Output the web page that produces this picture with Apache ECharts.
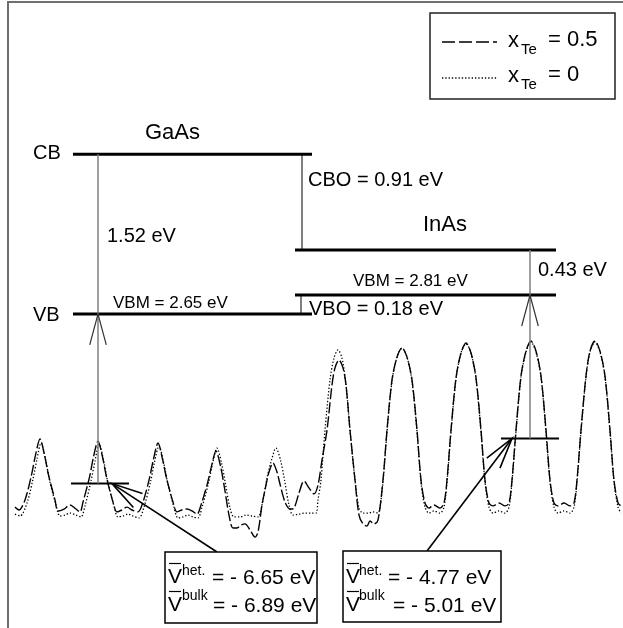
<!DOCTYPE html>
<html>
<head>
<meta charset="utf-8">
<script src="https://cdn.jsdelivr.net/npm/echarts@6/dist/echarts.min.js"></script>
<style>
  html, body { margin: 0; padding: 0; background: #fff; }
  #chart { width: 623px; height: 628px; }
</style>
</head>
<body>
<div id="chart"></div>
<script>
// position z in Angstrom, potential V in eV (x_Te = 0.5, dashed)
const potentialHalf = [
  [0.7,-7.63],[1.1,-7.75],[1.7,-7.33],[2.35,-6.29],[2.75,-5.46],[3.2,-4.79],[3.65,-5.46],[4.05,-6.29],[4.7,-7.33],[5.0,-7.79],
  [5.6,-7.71],[6.2,-7.54],[6.8,-7.71],[7.2,-7.83],
  [7.5,-7.42],[8.15,-6.38],[8.55,-5.54],[9.0,-4.88],[9.45,-5.54],[9.85,-6.38],[10.5,-7.42],[10.9,-7.83],
  [11.4,-7.75],[11.9,-7.63],[12.4,-7.75],[13.0,-7.83],
  [13.5,-7.42],[14.15,-6.42],[14.55,-5.63],[15.0,-4.96],[15.45,-5.63],[15.85,-6.42],[16.5,-7.42],[16.9,-7.83],
  [17.4,-7.75],[17.9,-7.71],[18.4,-7.79],[18.9,-7.92],
  [19.3,-7.54],[19.95,-6.63],[20.35,-5.92],[20.8,-5.29],[21.25,-5.92],[21.65,-6.83],[22.1,-7.96],[22.5,-8.50],
  [22.9,-8.50],[23.3,-8.38],[23.7,-8.33],[24.2,-8.58],[24.7,-8.88],[25.0,-8.67],
  [25.4,-7.54],[25.8,-6.71],[26.1,-6.17],[26.5,-5.79],[26.9,-6.17],[27.2,-6.67],[27.7,-7.42],[28.2,-7.71],
  [28.6,-7.67],[29.1,-7.04],[29.6,-6.54],[30.1,-6.83],[30.6,-7.08],
  [31.0,-6.71],[31.4,-5.67],[31.9,-4.42],[32.4,-2.54],[32.7,-1.83],[33.1,-1.50],[33.5,-1.83],[33.8,-2.54],[34.2,-4.42],[34.7,-6.50],[35.1,-7.96],[35.5,-8.33],
  [35.9,-8.42],[36.2,-8.21],[36.6,-8.33],[37.0,-8.17],
  [37.5,-6.50],[37.9,-4.42],[38.4,-2.33],[38.9,-1.38],[39.4,-1.00],[39.9,-1.38],[40.4,-2.33],[40.9,-4.42],[41.3,-6.50],[41.7,-7.46],
  [42.1,-7.67],[42.6,-7.54],[43.2,-7.67],
  [43.6,-7.46],[43.9,-6.50],[44.3,-4.42],[44.8,-2.25],[45.3,-1.21],[45.8,-0.79],[46.3,-1.21],[46.8,-2.25],[47.3,-4.42],[47.7,-6.50],[48.1,-7.46],
  [48.5,-7.58],[49.1,-7.46],[49.7,-7.58],
  [50.1,-7.46],[50.4,-6.50],[50.8,-4.42],[51.3,-2.17],[51.8,-1.13],[52.3,-0.71],[52.8,-1.13],[53.3,-2.17],[53.8,-4.42],[54.2,-6.50],[54.6,-7.46],
  [55.0,-7.58],[55.6,-7.46],[56.2,-7.58],
  [56.6,-7.46],[56.9,-6.50],[57.3,-4.42],[57.8,-2.17],[58.2,-1.13],[58.7,-0.71],[59.2,-1.13],[59.7,-2.17],[60.2,-4.42],[60.6,-6.50],[61.0,-7.46],[61.3,-7.58]
];

// x_Te = 0 (dotted)
const potentialZero = [
  [0.7,-7.92],[1.2,-8.00],[1.9,-7.46],[2.5,-6.46],[2.9,-5.63],[3.3,-4.96],[3.75,-5.63],[4.15,-6.50],[4.8,-7.54],[5.2,-8.00],
  [5.7,-7.96],[6.2,-7.88],[6.8,-7.96],[7.3,-8.04],
  [7.7,-7.58],[8.3,-6.54],[8.7,-5.71],[9.1,-5.00],[9.55,-5.67],[9.95,-6.54],[10.6,-7.58],[11.0,-8.04],
  [11.5,-8.00],[12.0,-7.92],[12.5,-8.00],[13.1,-8.08],
  [13.6,-7.63],[14.25,-6.58],[14.65,-5.75],[15.1,-5.08],[15.55,-5.75],[15.95,-6.58],[16.6,-7.63],[17.0,-8.08],
  [17.5,-8.04],[18.0,-7.96],[18.5,-8.04],[19.0,-8.08],
  [19.4,-7.63],[20.05,-6.63],[20.45,-5.83],[20.9,-5.17],[21.35,-5.79],[21.75,-6.67],[22.2,-7.67],[22.6,-8.04],
  [23.2,-8.04],[23.8,-7.96],[24.4,-8.00],[25.0,-8.04],
  [25.5,-7.33],[25.9,-6.42],[26.35,-5.67],[26.8,-5.17],[27.25,-5.67],[27.65,-6.50],[28.1,-7.54],[28.5,-7.96],
  [29.1,-7.92],[29.7,-7.88],[30.3,-7.88],[30.8,-7.88],
  [31.0,-7.33],[31.3,-6.50],[31.7,-4.42],[32.2,-2.33],[32.6,-1.42],[33.0,-1.08],[33.4,-1.42],[33.8,-2.54],[34.2,-4.42],[34.7,-6.50],[35.1,-7.67],[35.5,-7.88],
  [36.0,-7.88],[36.5,-7.83],[37.0,-7.88],
  [37.2,-7.63],[37.5,-6.58],[37.9,-4.50],[38.4,-2.38],[38.9,-1.38],[39.4,-1.00],[39.9,-1.38],[40.4,-2.38],[40.9,-4.50],[41.3,-6.58],[41.7,-7.63],
  [42.1,-7.88],[42.6,-7.79],[43.2,-7.88],
  [43.6,-7.63],[43.9,-6.58],[44.3,-4.50],[44.8,-2.29],[45.3,-1.21],[45.8,-0.83],[46.3,-1.21],[46.8,-2.29],[47.3,-4.50],[47.7,-6.58],[48.1,-7.63],
  [48.5,-7.88],[49.1,-7.79],[49.7,-7.88],
  [50.1,-7.63],[50.4,-6.58],[50.8,-4.50],[51.3,-2.21],[51.8,-1.17],[52.3,-0.75],[52.8,-1.17],[53.3,-2.21],[53.8,-4.50],[54.2,-6.58],[54.6,-7.63],
  [55.0,-7.88],[55.6,-7.79],[56.2,-7.88],
  [56.6,-7.63],[56.9,-6.58],[57.3,-4.50],[57.8,-2.21],[58.2,-1.17],[58.7,-0.75],[59.2,-1.17],[59.7,-2.21],[60.2,-4.50],[60.6,-6.58],[61.0,-7.63],[61.3,-7.88]
];

// band edges (eV, GaAs VB = 0): [CB, VB]
const gaasLevels = [1.52, 0];
const inasLevels = [0.61, 0.18];
const gaasSpan = [6.5, 30.4];
const inasSpan = [28.7, 54.8];
const cboX = 29.4;
const vboX = 29.3;
const gapX = [9.0, 52.2];

// average potentials (eV) and where they are marked
const meanHet = [-6.65, -4.77];
const meanBulk = [-6.89, -5.01];
const markerSpan = [[6.3, 12.1], [49.3, 55.1]];
const arrowTipX = [10.4, 50.4];

const FONT = '"Liberation Sans", Arial, sans-serif';
const chart = echarts.init(document.getElementById('chart'), null, { renderer: 'canvas' });

function seg(data, axis, color, width) {
  return {
    type: 'line', data: data, yAxisIndex: axis, symbol: 'none', silent: true,
    lineStyle: { color: color, width: width, cap: 'butt' }, z: 3
  };
}

const series = [
  {
    name: 'x_Te = 0.5', type: 'line', data: potentialHalf, yAxisIndex: 0,
    symbol: 'none', smooth: 0.3, silent: true,
    lineStyle: { color: '#000', width: 1.4, type: [11, 3] }
  },
  {
    name: 'x_Te = 0', type: 'line', data: potentialZero, yAxisIndex: 0,
    symbol: 'none', smooth: 0.3, silent: true,
    lineStyle: { color: '#000', width: 1.3, type: [1.3, 2] }
  }
];
gaasLevels.forEach(e => series.push(seg([[gaasSpan[0], e], [gaasSpan[1], e]], 1, '#000', 3)));
inasLevels.forEach(e => series.push(seg([[inasSpan[0], e], [inasSpan[1], e]], 1, '#000', 3)));
series.push(seg([[cboX, gaasLevels[0]], [cboX, inasLevels[0]]], 1, '#000', 1));
series.push(seg([[vboX, inasLevels[1]], [vboX, gaasLevels[1]]], 1, '#000', 1));
series.push(seg([[gapX[0], gaasLevels[0]], [gapX[0], gaasLevels[1]]], 1, '#7f7f7f', 1.5));
series.push(seg([[gapX[1], inasLevels[0]], [gapX[1], inasLevels[1]]], 1, '#7f7f7f', 1.5));
markerSpan.forEach((s, i) => series.push(seg([[s[0], meanHet[i]], [s[1], meanHet[i]]], 0, '#000', 2)));

chart.setOption({
  animation: false,
  backgroundColor: '#fff',
  grid: { left: 8, right: 2, top: 0, bottom: 0, outerBoundsMode: 'none' },
  xAxis: { type: 'value', min: 0, max: 61.3, show: false },
  yAxis: [
    { type: 'value', min: 13.5 - 628 / 24, max: 13.5, show: false },
    { type: 'value', min: -2.99, max: 2.99, show: false }
  ],
  series: series
});

// annotations placed through the axes
const X = v => chart.convertToPixel({ xAxisIndex: 0 }, v);
const Y = (v, a) => chart.convertToPixel({ yAxisIndex: a }, v);
const g = [];

function line(x1, y1, x2, y2, stroke, lw, dash) {
  g.push({ type: 'line', z: 5, silent: true, shape: { x1, y1, x2, y2 },
    style: { stroke: stroke, lineWidth: lw, lineDash: dash || null } });
}
function text(str, x, y, size) {
  g.push({ type: 'text', z: 6, silent: true, x: x, y: y,
    style: { text: str, font: size + 'px ' + FONT, fill: '#000', textAlign: 'left', textVerticalAlign: 'middle' } });
}
function arrowHead(tx, ty, fx, fy, stroke, lw) {
  const a = Math.atan2(fy - ty, fx - tx), d = 15 * Math.PI / 180, len = 32;
  g.push({ type: 'polyline', z: 5, silent: true,
    shape: { points: [[tx + len * Math.cos(a + d), ty + len * Math.sin(a + d)], [tx, ty],
                      [tx + len * Math.cos(a - d), ty + len * Math.sin(a - d)]] },
    style: { stroke: stroke, lineWidth: lw, fill: null } });
}

// frame (left and top only)
g.push({ type: 'polyline', z: 5, silent: true, shape: { points: [[8, 640], [8, 2], [630, 2]] },
  style: { stroke: '#6e6e6e', lineWidth: 2, fill: null } });

// gap arrows from mean potential up to the valence band
const vbTop = [gaasLevels[1], inasLevels[1]];
gapX.forEach((gx, i) => {
  const x = X(gx), yt = Y(vbTop[i], 1), yb = Y(meanHet[i], 0);
  line(x, yt, x, yb, '#7f7f7f', 1.5);
  arrowHead(x, yt, x, yb, '#333', 1.2);
});

// value boxes and their arrows
const boxes = [
  { x: 165, y: 552, w: 152, h: 71, tail: [217, 552], vx: 168, sup: 182, eq: [212, 213] },
  { x: 343, y: 551, w: 158, h: 71, tail: [427, 551], vx: 346, sup: 359, eq: [388, 393] }
];
boxes.forEach((b, i) => {
  const tx = X(arrowTipX[i]), ty = Y(meanHet[i], 0);
  line(b.tail[0], b.tail[1], tx, ty, '#000', 1.6);
  arrowHead(tx, ty, b.tail[0], b.tail[1], '#000', 1.6);
  g.push({ type: 'rect', z: 5, silent: true, shape: { x: b.x, y: b.y, width: b.w, height: b.h },
    style: { stroke: '#000', lineWidth: 1.5, fill: '#fff' } });
  const rows = [[577, 571, 'het.', meanHet[i]], [605, 596, 'bulk', meanBulk[i]]];
  rows.forEach((r, k) => {
    text('V', b.vx, r[0], 21);
    line(b.vx + 1, r[0] - 13.5, b.vx + 13, r[0] - 13.5, '#000', 1.2);
    text(r[2], b.sup, r[1], 14);
    text('= - ' + Math.abs(r[3]).toFixed(2) + ' eV', b.eq[k], r[0] + 1, 21);
  });
});

// band diagram labels
text('GaAs', 145, 133, 22);
text('CB', 33, 153, 20);
text('VB', 33, 315, 20);
text((gaasLevels[0] - gaasLevels[1]).toFixed(2) + ' eV', 107, 236, 20);
text('VBM = 2.65 eV', 113, 303, 17);
text('CBO = ' + (gaasLevels[0] - inasLevels[0]).toFixed(2) + ' eV', 308, 180, 20);
text('InAs', 423, 225, 22);
text((inasLevels[0] - inasLevels[1]).toFixed(2) + ' eV', 538, 270, 20);
text('VBM = 2.81 eV', 353, 281, 17);
text('VBO = ' + (inasLevels[1] - gaasLevels[1]).toFixed(2) + ' eV', 309, 309, 20);

// legend
g.push({ type: 'rect', z: 5, silent: true, shape: { x: 430, y: 13, width: 185, height: 86 },
  style: { stroke: '#222', lineWidth: 1.5, fill: '#fff' } });
line(442, 42, 497, 42, '#000', 1.3, [13, 4]);
line(442, 78, 497, 78, '#000', 1.3, [1.3, 2]);
[[40, '0.5'], [75, '0']].forEach(r => {
  text('x', 508, r[0] + 1, 22);
  text('Te', 521, r[0] + 10, 15);
  text('= ' + r[1], 548, r[0], 22);
});

chart.setOption({ graphic: { elements: g } });
</script>
</body>
</html>
